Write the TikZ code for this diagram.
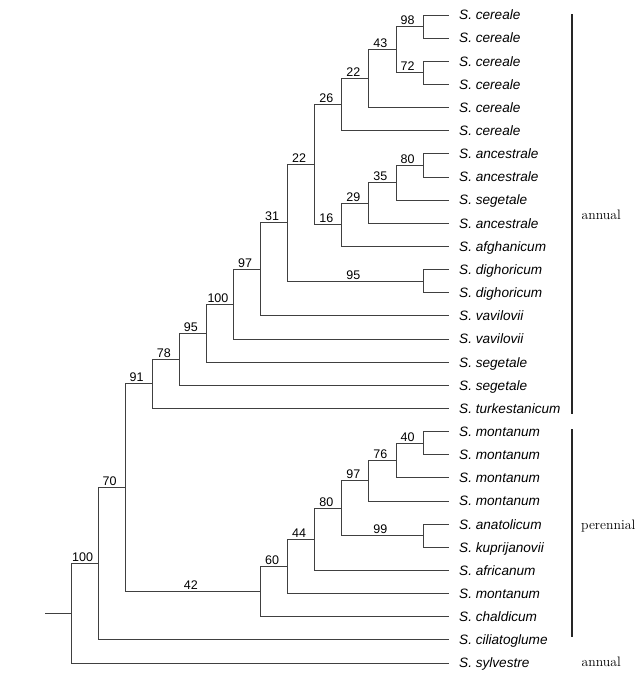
\documentclass[tikz,border=0pt]{standalone}
\usepackage{fontspec}
\setsansfont{Liberation Sans}
\usepackage{tikz}

% horizontal position of a tree level
\newcommand{\lev}[1]{71+27.08*#1}

\tikzset{
  branch/.style={line width=0.9pt, draw=black!75},
  leaf/.style={anchor=west, inner xsep=10pt, inner ysep=0pt, text height=9.7pt, text depth=0pt,
    font=\sffamily\itshape\fontsize{13.6}{15}\selectfont},
  bs/.style={above, inner sep=1.5pt, xshift=-2pt, text depth=0pt, font=\sffamily\fontsize{12.5}{14}\selectfont},
  grp/.style={anchor=west, inner sep=0pt, font=\fontsize{13.7}{15}\selectfont}
}

\begin{document}
\begin{tikzpicture}[x=1pt,y=-1pt]
\useasboundingbox (0,0) rectangle (644,675);

% leaves
\foreach \name [count=\i] in {cereale,cereale,cereale,cereale,cereale,cereale,ancestrale,ancestrale,segetale,ancestrale,afghanicum,dighoricum,dighoricum,vavilovii,vavilovii,segetale,segetale,turkestanicum,montanum,montanum,montanum,montanum,anatolicum,kuprijanovii,africanum,montanum,chaldicum,ciliatoglume,sylvestre}
\node[leaf] (l\i) at (449, {15+(\i-1)*23.143}) {S.~\name};

% internal nodes
\coordinate (root)   at ({\lev{0}}, 613.4);
\coordinate (cil100) at ({\lev{1}}, 563.8);
\coordinate (ann70)  at ({\lev{2}}, 487.7);
\coordinate (tur91)  at ({\lev{3}}, 383.8);
\coordinate (seg78)  at ({\lev{4}}, 359.2);
\coordinate (seg95)  at ({\lev{5}}, 333.2);
\coordinate (vav100) at ({\lev{6}}, 304.2);
\coordinate (vav97)  at ({\lev{7}}, 269.4);
\coordinate (grp31)  at ({\lev{8}}, 222.9);
\coordinate (grp22)  at ({\lev{9}}, 164.7);
\coordinate (cer26)  at ({\lev{10}}, 104.7);
\coordinate (cer22)  at ({\lev{11}}, 78.6);
\coordinate (cer43)  at ({\lev{12}}, 49.7);
\coordinate (cer98)  at ({\lev{13}}, 26.6);
\coordinate (cer72)  at ({\lev{13}}, 72.9);
\coordinate (afg16)  at ({\lev{10}}, 224.7);
\coordinate (anc29)  at ({\lev{11}}, 203.0);
\coordinate (seg35)  at ({\lev{12}}, 182.8);
\coordinate (anc80)  at ({\lev{13}}, 165.4);
\coordinate (dig95)  at ({\lev{13}}, 281.1);
\coordinate (cha42)  at ({\lev{7}}, 591.6);
\coordinate (mon60)  at ({\lev{8}}, 566.5);
\coordinate (afr44)  at ({\lev{9}}, 539.3);
\coordinate (mon80)  at ({\lev{10}}, 508.2);
\coordinate (mon97)  at ({\lev{11}}, 480.8);
\coordinate (mon76)  at ({\lev{12}}, 460.5);
\coordinate (mon40)  at ({\lev{13}}, 443.1);
\coordinate (ana99)  at ({\lev{13}}, 535.7);
\coordinate (stub)   at (45, 613.4);

% branches with support values
\draw[branch] (stub) -- (root);
\foreach \p/\c/\v in {root/cil100/100, cil100/ann70/70, ann70/tur91/91, ann70/cha42/42,
  tur91/seg78/78, seg78/seg95/95, seg95/vav100/100, vav100/vav97/97, vav97/grp31/31,
  grp31/grp22/22, grp31/dig95/95, grp22/cer26/26, grp22/afg16/16, cer26/cer22/22,
  cer22/cer43/43, cer43/cer98/98, cer43/cer72/72, afg16/anc29/29, anc29/seg35/35,
  seg35/anc80/80, cha42/mon60/60, mon60/afr44/44, afr44/mon80/80, mon80/mon97/97,
  mon80/ana99/99, mon97/mon76/76, mon76/mon40/40}
\draw[branch] (\p) |- (\c) node[bs,pos=0.75] {\v};

% terminal branches
\foreach \p/\c in {cer98/l1, cer98/l2, cer72/l3, cer72/l4, cer22/l5, cer26/l6,
  anc80/l7, anc80/l8, seg35/l9, anc29/l10, afg16/l11, dig95/l12, dig95/l13,
  vav97/l14, vav100/l15, seg95/l16, seg78/l17, tur91/l18, mon40/l19, mon40/l20,
  mon76/l21, mon97/l22, ana99/l23, ana99/l24, afr44/l25, mon60/l26, cha42/l27,
  cil100/l28, root/l29}
\draw[branch] (\p) |- (\c);

% life form brackets
\draw[line width=1.1pt, black!85] (572,14) -- (572,414);
\draw[line width=1.1pt, black!85] (572,429) -- (572,637);
\node[grp] (annual1) at (581.5,215) {annual};
\node[grp] (perennial) at (581,526) {perennial};
\node[grp] (annual2) at (581.5,662) {annual};

\end{tikzpicture}
\end{document}
